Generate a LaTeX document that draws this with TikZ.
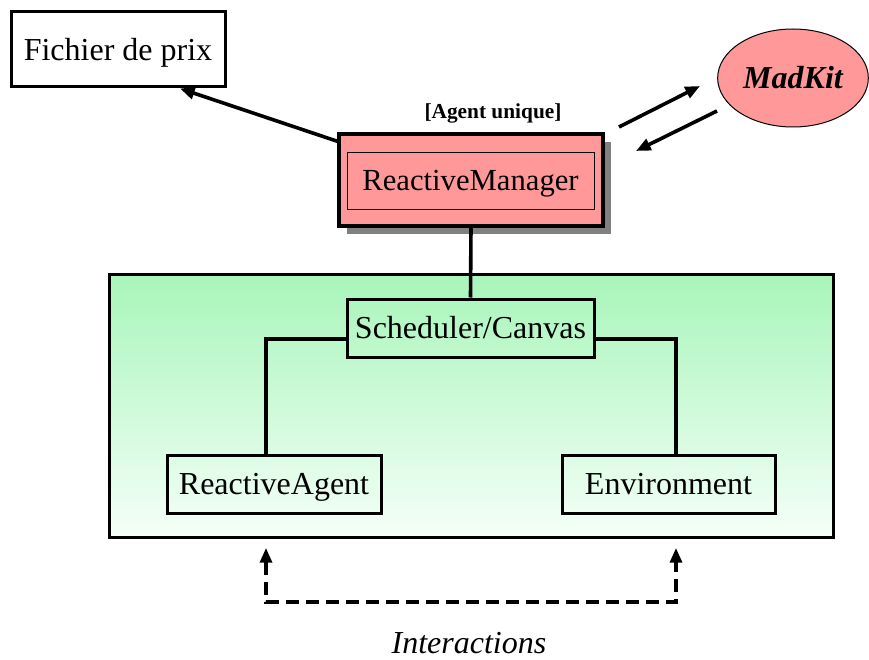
\documentclass[tikz,border=0pt]{standalone}
\usepackage{fontspec}
\setmainfont{Liberation Serif}
\usepackage{tikz}
\usetikzlibrary{arrows.meta}
\usetikzlibrary{shapes.geometric}
\usetikzlibrary{shadows}

\definecolor{mgrpink}{RGB}{255,153,153}
\definecolor{simgreen}{RGB}{168,245,186}
\definecolor{simwhite}{RGB}{245,255,248}
\definecolor{shadowgray}{RGB}{128,128,128}

\tikzset{
  classbox/.style={draw, rectangle, line width=2.25pt, inner sep=0pt,
    text height=15.9pt, text depth=0pt, font=\fontsize{24}{28}\selectfont},
  link/.style={line width=2.7pt},
  tip/.style={-{Triangle[length=11pt,width=9pt]}},
  iadash/.style={line width=2.4pt, dash pattern=on 9.75pt off 5.25pt}
}

\begin{document}
\begin{tikzpicture}[x=0.75pt,y=0.75pt,yscale=-1,xscale=1]
  \useasboundingbox (0,0) rectangle (869,660);
  % simulation area
  \draw [line width=2.25pt, top color=simgreen, bottom color=simwhite] (109,274) rectangle (833,537);
  \node [classbox, minimum width=160.5pt, minimum height=56.25pt] (fichier) at (118,49.5) {Fichier de prix};
  \node [draw, line width=2.6pt, fill=mgrpink, minimum width=198pt, minimum height=69pt,
    drop shadow={shadow xshift=6pt, shadow yshift=-6pt, fill=shadowgray, opacity=1}] (mgrout) at (471,180) {};
  \node [classbox, line width=0.6pt, minimum width=185.25pt, minimum height=42.75pt,
    text height=15.2pt, font=\fontsize{23}{27}\selectfont] (mgr) at (470.5,180.5) {ReactiveManager};
  \node [font=\fontsize{16}{19}\selectfont\bfseries] (unique) at (493,113) {[Agent unique]};
  \node [ellipse, draw, line width=0.75pt, fill=mgrpink, minimum width=113pt, minimum height=73.5pt,
    inner sep=0pt, text height=15.9pt, text depth=0pt,
    font=\fontsize{24}{28}\selectfont\bfseries\itshape] (madkit) at (793,78) {MadKit};
  \node [classbox, minimum width=185.25pt, minimum height=43.5pt] (sched) at (470.5,328) {Scheduler/Canvas};
  \node [classbox, minimum width=160.5pt, minimum height=43.5pt] (ragent) at (274,484) {ReactiveAgent};
  \node [classbox, minimum width=159.75pt, minimum height=43.5pt] (env) at (668.5,484) {Environment};
  \node [font=\fontsize{24}{28}\selectfont\itshape] (inter) at (469,643) {Interactions};

  \coordinate (toMk) at (700,86);
  \coordinate (fromMgr) at (619,127);
  \coordinate (fromMk) at (717,111);
  \coordinate (toMgr) at (636,151);
  \coordinate (iaA) at (266,548);
  \coordinate (iaE) at (676,548);
  \coordinate (iaMid) at (471,602);

  \draw [link, tip] ([yshift=6.75pt]mgrout.north west) -- ([xshift=46.5pt]fichier.south);
  \draw [link, tip] (fromMgr) -- (toMk);
  \draw [link, tip] (fromMk) -- (toMgr);
  \draw [link] (mgrout.south) -- (sched.north);
  \draw [link] ([yshift=8.25pt]sched.west) -| ([xshift=-6pt]ragent.north);
  \draw [link] ([yshift=8.25pt]sched.east) -| ([xshift=5.6pt]env.north);
  \draw [iadash, {Triangle[length=11pt,width=9pt]}-{Triangle[length=11pt,width=9pt]}] (iaA) |- (iaMid) -| (iaE);
\end{tikzpicture}
\end{document}
